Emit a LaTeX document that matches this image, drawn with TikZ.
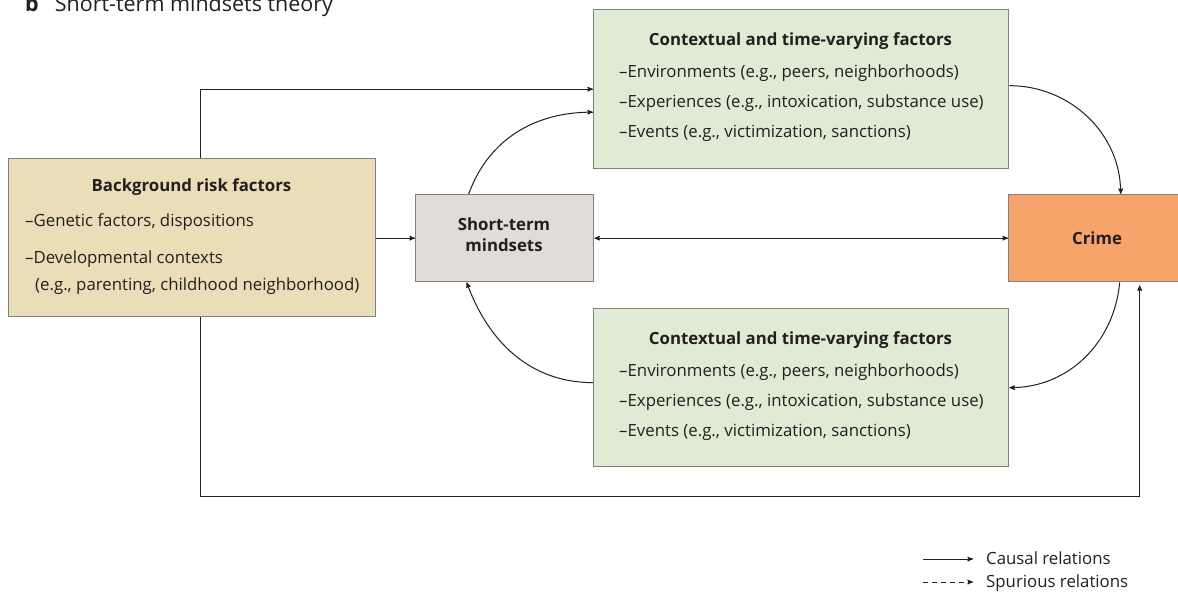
\documentclass[tikz,border=0pt]{standalone}
\usepackage{fontspec}
\setmainfont{Open Sans}
\usepackage{tikz}
\usetikzlibrary{arrows}
\usetikzlibrary{calc}
\definecolor{tanbox}{RGB}{234,221,183}
\definecolor{greybox}{RGB}{224,220,218}
\definecolor{greenbox}{RGB}{224,235,214}
\definecolor{crimebox}{RGB}{246,164,108}
\definecolor{edge}{RGB}{128,128,128}
\definecolor{ink}{RGB}{35,31,32}
\tikzset{
 box/.style={draw=edge, line width=1.3pt, inner sep=0pt, anchor=north west},
 txt/.style={anchor=base west, inner sep=0pt, text=ink, font=\fontsize{16.8}{19}\selectfont},
 hd/.style={anchor=base, inner sep=0pt, text=ink, font=\bfseries\fontsize{16.8}{19}\selectfont},
 link/.style={ink, line width=1pt, ->, >=stealth'},
}

\begin{document}
\begin{tikzpicture}[x=1pt, y=-1pt]
\useasboundingbox (0,0) rectangle (1178,598);
\node[txt, font=\fontsize{21.5}{24}\selectfont] (title) at (25,11) {\textbf{b}\hspace{16pt}Short-term mindsets theory};

% boxes
\node[box, fill=tanbox, minimum width=367pt, minimum height=158pt] (bg) at (8,158) {};
\node[box, fill=greybox, minimum width=178pt, minimum height=87pt] (stm) at (415,194) {};
\node[box, fill=crimebox, minimum width=178pt, minimum height=87pt] (crime) at (1008,194) {};
\node[box, fill=greenbox, minimum width=415pt, minimum height=159pt] (ctxtop) at (593,9) {};
\node[box, fill=greenbox, minimum width=415pt, minimum height=158pt] (ctxbot) at (593,308) {};

% texts
\node[hd] (bghd) at (191.5,191) {Background risk factors};
\node[txt] (bg1) at (25,226) {--Genetic factors, dispositions};
\node[txt] (bg2) at (25,263) {--Developmental contexts};
\node[txt] (bg3) at (35,290) {(e.g., parenting, childhood neighborhood)};
\node[hd] (stmhd) at (504,230) {Short-term};
\node[hd] (stmhd2) at (504,251) {mindsets};
\node[hd] (crimehd) at (1097,244) {Crime};
\foreach \nm/\dy in {top/0, bot/299} {
 \node[hd] (ctx\nm hd) at (800.5,45+\dy) {Contextual and time-varying factors};
 \node[txt] (ctx\nm 1) at (619,77+\dy) {--Environments (e.g., peers, neighborhoods)};
 \node[txt] (ctx\nm 2) at (619,107+\dy) {--Experiences (e.g., intoxication, substance use)};
 \node[txt] (ctx\nm 3) at (619,137+\dy) {--Events (e.g., victimization, sanctions)};
}

% connectors
\draw[link] ([xshift=8pt]bg.north) |- (ctxtop.west);
\draw[link] ([xshift=-36pt]stm.north) to[out=70, in=180] ([yshift=-23pt]ctxtop.west);
\draw[link] ([yshift=3.5pt]ctxtop.east) to[out=0, in=90] ([xshift=23pt]crime.north);
\draw[link] ([xshift=22pt]crime.south) to[out=-95, in=0] (ctxbot.east);
\draw[link] ([yshift=5pt]ctxbot.west) to[out=180, in=-70] ([xshift=-38pt]stm.south);
\draw[link] (stm.west -| bg.east) -- (stm.west);
\draw[link, <->] (stm.east) -- (crime.west);
\draw[link, shorten >=3pt] ([xshift=8pt]bg.south) -- ++(0,179) -| ([xshift=42pt]crime.south);

% legend
\node[txt] (causal) at (986,564) {Causal relations};
\node[txt] (spurious) at (986,587) {Spurious relations};
\draw[link] ([xshift=-63pt,yshift=5pt]causal.base west) -- ([xshift=-13pt,yshift=5pt]causal.base west);
\draw[link, dash pattern=on 5pt off 4pt] ([xshift=-63pt,yshift=5pt]spurious.base west) -- ([xshift=-13pt,yshift=5pt]spurious.base west);
\end{tikzpicture}
\end{document}
